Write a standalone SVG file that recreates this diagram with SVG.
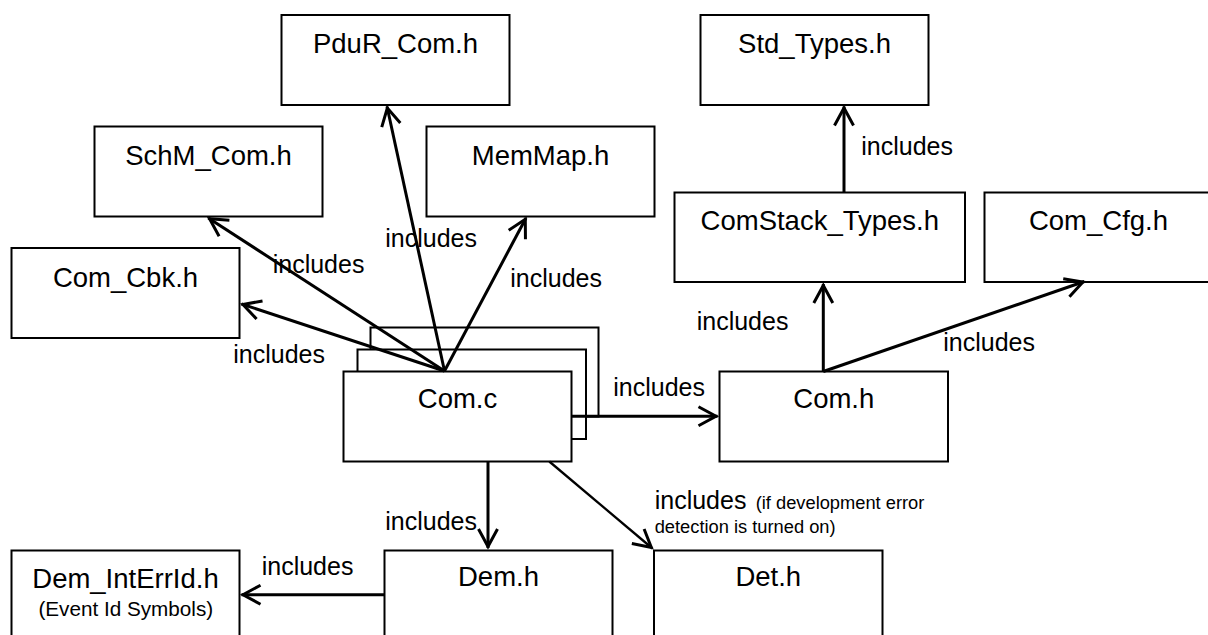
<svg xmlns="http://www.w3.org/2000/svg" width="1208" height="635" viewBox="0 0 1208 635">
  <style>
    .box { fill: #fff; stroke: #000; stroke-width: 2; }
    .title { font-family: "Liberation Sans", Arial, sans-serif; font-size: 27.5px; fill: #000; text-anchor: middle; }
    .sub { font-family: "Liberation Sans", Arial, sans-serif; font-size: 20.7px; fill: #000; text-anchor: middle; }
    .lbl { font-family: "Liberation Sans", Arial, sans-serif; font-size: 25px; fill: #000; }
    .note { font-family: "Liberation Sans", Arial, sans-serif; font-size: 18.3px; fill: #000; }
    .edge { fill: none; stroke: #000; stroke-width: 3; marker-end: url(#arrow); }
    .thin { stroke-width: 2.3; }
  </style>
  <defs>
    <marker id="arrow" markerUnits="userSpaceOnUse" viewBox="-22 -12 24 24" refX="0" refY="0" markerWidth="24" markerHeight="24" orient="auto" overflow="visible">
      <path d="M-19,-9.5 L-1.5,0 L-19,9.5" fill="none" stroke="#000" stroke-width="3"/>
    </marker>
  </defs>
  <rect width="1208" height="635" fill="#fff"/>

  <g id="node-pdur-com">
    <rect class="box" x="281.5" y="15" width="228" height="90"/>
    <text class="title" x="395.5" y="53.3">PduR_Com.h</text>
  </g>
  <g id="node-std-types">
    <rect class="box" x="700.5" y="15" width="228" height="90"/>
    <text class="title" x="814.5" y="53.3">Std_Types.h</text>
  </g>
  <g id="node-schm-com">
    <rect class="box" x="94.5" y="126.5" width="228" height="90"/>
    <text class="title" x="208.5" y="165">SchM_Com.h</text>
  </g>
  <g id="node-memmap">
    <rect class="box" x="426.5" y="126.5" width="228" height="90"/>
    <text class="title" x="540.5" y="165">MemMap.h</text>
  </g>
  <g id="node-comstack-types">
    <rect class="box" x="674.5" y="192.5" width="290.5" height="89.5"/>
    <text class="title" x="819.8" y="230">ComStack_Types.h</text>
  </g>
  <g id="node-com-cfg">
    <rect class="box" x="984.5" y="192.5" width="228" height="89.5"/>
    <text class="title" x="1098.5" y="230">Com_Cfg.h</text>
  </g>
  <g id="node-com-cbk">
    <rect class="box" x="11.5" y="248" width="228" height="90"/>
    <text class="title" x="125.5" y="286.7">Com_Cbk.h</text>
  </g>
  <g id="node-com-c">
    <!-- stacked sheets behind the source file -->
    <rect class="box" x="370.5" y="327.5" width="228" height="89"/>
    <rect class="box" x="357.5" y="349.5" width="228.5" height="89.5"/>
    <rect class="box" x="343.5" y="371.5" width="228" height="90"/>
    <text class="title" x="457.5" y="408">Com.c</text>
  </g>
  <g id="node-com-h">
    <rect class="box" x="719.5" y="371.5" width="228.5" height="90"/>
    <text class="title" x="833.8" y="408">Com.h</text>
  </g>
  <g id="node-dem-interrid">
    <rect class="box" x="11.5" y="550.5" width="228" height="90"/>
    <text class="title" x="125.5" y="588">Dem_IntErrId.h</text>
    <text class="sub" x="125.8" y="616.3">(Event Id Symbols)</text>
  </g>
  <g id="node-dem-h">
    <rect class="box" x="384.5" y="550.5" width="228" height="90"/>
    <text class="title" x="498.5" y="586.3">Dem.h</text>
  </g>
  <g id="node-det-h">
    <rect class="box" x="654" y="550.5" width="228.5" height="90"/>
    <text class="title" x="768.3" y="586.3">Det.h</text>
  </g>

  <g id="connectors">
    <line class="edge" x1="444.5" y1="371" x2="208.3" y2="218"/>
    <line class="edge" x1="444.5" y1="371" x2="241.5" y2="304"/>
    <line class="edge" x1="444.5" y1="371" x2="387" y2="106.5"/>
    <line class="edge" x1="444.5" y1="371" x2="526" y2="218"/>
    <line class="edge" x1="571.3" y1="416.3" x2="717.5" y2="416.3"/>
    <line class="edge" x1="488" y1="461.5" x2="488" y2="548"/>
    <line class="edge thin" x1="549.3" y1="461.5" x2="652.5" y2="548.5"/>
    <line class="edge" x1="384.7" y1="594.7" x2="241.5" y2="594.7"/>
    <line class="edge" x1="844" y1="192.5" x2="844" y2="106.5"/>
    <line class="edge" x1="823.3" y1="371.5" x2="823.3" y2="284"/>
    <line class="edge" x1="823.3" y1="371.5" x2="1084.3" y2="281.5"/>

    <text class="lbl" x="272.7" y="273.3">includes</text>
    <text class="lbl" x="385.3" y="246.7">includes</text>
    <text class="lbl" x="510.3" y="286.7">includes</text>
    <text class="lbl" x="233.3" y="363">includes</text>
    <text class="lbl" x="861.3" y="155">includes</text>
    <text class="lbl" x="696.7" y="330">includes</text>
    <text class="lbl" x="943.3" y="351.3">includes</text>
    <text class="lbl" x="613.3" y="396.3">includes</text>
    <text class="lbl" x="385.3" y="529.7">includes</text>
    <text class="lbl" x="261.7" y="574.7">includes</text>
    <text x="654.7" y="509"><tspan class="lbl">includes</tspan><tspan class="note" x="755.7">(if development error</tspan></text>
    <text class="note" x="654.7" y="533">detection is turned on)</text>
  </g>
</svg>
